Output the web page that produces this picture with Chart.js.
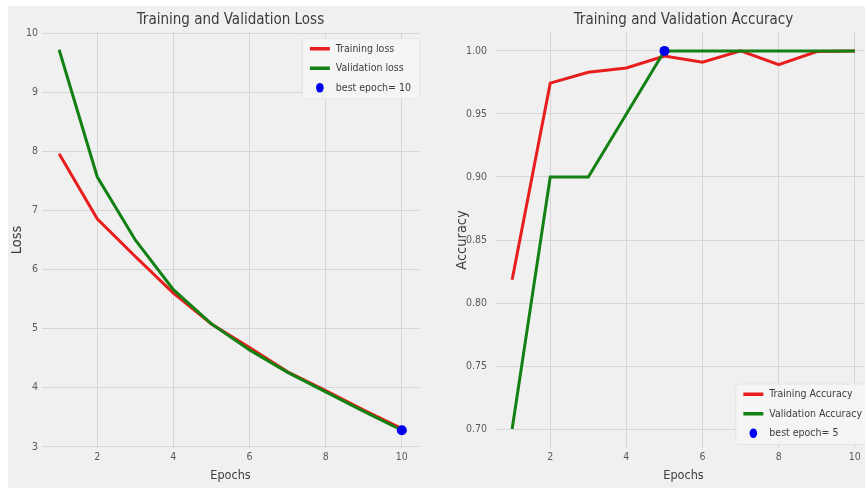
<!DOCTYPE html>
<html><head><meta charset="utf-8">
<script src="https://cdn.jsdelivr.net/npm/chart.js@4/dist/chart.umd.min.js"></script>
<style>
html,body{margin:0;padding:0;background:#fff;overflow:hidden;width:865px;height:488px;}
#bg{position:absolute;left:8px;top:6px;width:857px;height:482px;background:#f0f0f0;}
#c1{position:absolute;left:0;top:0;}
#c2{position:absolute;left:432px;top:0;}
</style></head><body>
<div id="bg"></div>
<canvas id="c1" width="430" height="488"></canvas>
<canvas id="c2" width="450" height="488"></canvas>
<script>
// ---- data ----
const epochs = [1, 2, 3, 4, 5, 6, 7, 8, 9, 10];
const trainLoss = [7.96, 6.86, 6.22, 5.60, 5.08, 4.68, 4.27, 3.95, 3.62, 3.31];
const valLoss   = [9.72, 7.57, 6.50, 5.66, 5.08, 4.64, 4.26, 3.93, 3.60, 3.28];
const trainAcc  = [0.8185, 0.9744, 0.983, 0.9865, 0.996, 0.991, 1.0, 0.989, 0.9995, 1.0];
const valAcc    = [0.70, 0.90, 0.90, 0.95, 1.0, 1.0, 1.0, 1.0, 1.0, 1.0];
const epochTicks = [2, 4, 6, 8, 10];
const lossTicks = [3, 4, 5, 6, 7, 8, 9, 10];
const accTicks = [0.70, 0.75, 0.80, 0.85, 0.90, 0.95, 1.00];
const bestLossEpoch = 10;
const bestAccEpoch = 5;

const FAMILY = "'DejaVu Sans Condensed', 'DejaVu Sans', sans-serif";
const F = (s) => ({family: FAMILY, size: s, weight: 'normal'});

const TEXT = '#3c3c3c', TICK = '#5a5a5a', GRID = '#d6d6d6';
const RED = '#e81e1e', GREEN = '#138013', BLUE = '#0000ee';

const boxLegend = {
  id: 'boxLegend',
  afterDatasetsDraw(chart, args, o) {
    const {ctx, chartArea: a} = chart;
    ctx.save();
    ctx.font = o.size + 'px ' + FAMILY;
    const items = chart.data.datasets.map(d => ({label: d.label, color: d.borderColor, dot: d.showLine === false, fill: d.pointBackgroundColor}));
    const padX = 8, lineW = 20, gap = 6, rowH = 19.5, padY = 1;
    const tw = Math.max(...items.map(i => ctx.measureText(i.label).width));
    const w = padX + lineW + gap + tw + padX, h = padY * 2 + rowH * items.length;
    const x = a.right - o.insetX - w;
    const y = o.corner === 'top' ? a.top + o.insetY : a.bottom - o.insetY - h;
    ctx.fillStyle = 'rgba(246,246,246,0.85)';
    ctx.strokeStyle = '#e4e4e4';
    ctx.lineWidth = 1;
    ctx.beginPath();
    ctx.roundRect(x + 0.5, y + 0.5, w, h, 3);
    ctx.fill(); ctx.stroke();
    items.forEach((it, i) => {
      const cy = y + padY + rowH * (i + 0.5);
      if (it.dot) {
        ctx.fillStyle = it.fill;
        ctx.beginPath();
        ctx.ellipse(x + padX + lineW / 2, cy, 3.8, 4.8, 0, 0, Math.PI * 2);
        ctx.fill();
      } else {
        ctx.strokeStyle = it.color; ctx.lineWidth = 3.5;
        ctx.beginPath(); ctx.moveTo(x + padX, cy); ctx.lineTo(x + padX + lineW, cy); ctx.stroke();
      }
      ctx.fillStyle = TEXT; ctx.textBaseline = 'middle'; ctx.textAlign = 'left';
      ctx.fillText(it.label, x + padX + lineW + gap, cy + 0.5);
    });
    ctx.restore();
  }
};

function lineDs(label, ys, color, order) {
  return {label, data: epochs.map((e, i) => ({x: e, y: ys[i]})), borderColor: color, backgroundColor: color,
    borderWidth: 3, pointRadius: 0, tension: 0, order, showLine: true};
}
function bestDs(label, ex, ys) {
  return {label, data: [{x: ex, y: ys[epochs.indexOf(ex)]}], showLine: false, borderColor: BLUE,
    pointBackgroundColor: BLUE, pointBorderColor: BLUE, pointBorderWidth: 0, pointRadius: 5, order: 0};
}

const TITLE_SIZE = 15;
function makeChart(id, cfg) {
  return new Chart(document.getElementById(id), {
    type: 'line',
    data: {datasets: cfg.datasets},
    plugins: [boxLegend],
    options: {
      responsive: false, animation: false, devicePixelRatio: 1,
      layout: {padding: {left: 0, right: cfg.padRight, top: 0, bottom: 0}},
      plugins: {
        legend: {display: false}, tooltip: {enabled: false},
        title: {display: true, text: cfg.title, color: TEXT, font: F(TITLE_SIZE), fullSize: false,
          padding: {top: 11.5, bottom: 32 - 11.5 - TITLE_SIZE * 1.2}},
        boxLegend: cfg.legend
      },
      scales: {
        x: {type: 'linear', min: 0.55, max: 10.45,
          afterBuildTicks: s => { s.ticks = epochTicks.map(v => ({value: v})); },
          afterFit: s => { s.height = 40; },
          grid: {color: GRID, lineWidth: 1, drawTicks: false},
          border: {display: false},
          ticks: {color: TICK, font: F(10.5), padding: 3, maxRotation: 0},
          title: {display: true, text: 'Epochs', color: TEXT, font: F(12.5), padding: {top: 0, bottom: 5}}
        },
        y: {type: 'linear', min: cfg.ymin, max: cfg.ymax,
          afterBuildTicks: s => { s.ticks = cfg.yticks.map(v => ({value: v})); },
          afterFit: s => { s.width = cfg.yWidth; },
          grid: {color: GRID, lineWidth: 1, drawTicks: false},
          border: {display: false},
          ticks: {color: TICK, font: F(10.5), padding: cfg.yPad, callback: cfg.yfmt},
          title: {display: true, text: cfg.ytitle, color: TEXT, font: F(14.5), padding: {top: cfg.yTitlePad, bottom: 0}}
        }
      }
    }
  });
}

makeChart('c1', {
  title: 'Training and Validation Loss', ytitle: 'Loss',
  datasets: [lineDs('Training loss', trainLoss, RED, 2), lineDs('Validation loss', valLoss, GREEN, 1),
             bestDs('best epoch= ' + bestLossEpoch, bestLossEpoch, valLoss)],
  ymin: 2.98, ymax: 10.02, yticks: lossTicks, yfmt: v => String(v),
  yWidth: 42, yPad: 4, yTitlePad: 9, padRight: 11,
  legend: {corner: 'top', insetX: 0, insetY: 6, size: 10.5}
});
makeChart('c2', {
  title: 'Training and Validation Accuracy', ytitle: 'Accuracy',
  datasets: [lineDs('Training Accuracy', trainAcc, RED, 2), lineDs('Validation Accuracy', valAcc, GREEN, 1),
             bestDs('best epoch= ' + bestAccEpoch, bestAccEpoch, valAcc)],
  ymin: 0.685, ymax: 1.015, yticks: accTicks, yfmt: v => v.toFixed(2),
  yWidth: 63, yPad: 8, yTitlePad: 22, padRight: 10,
  legend: {corner: 'bottom', insetX: 2, insetY: 4, size: 10.5}
});
</script>
</body></html>
